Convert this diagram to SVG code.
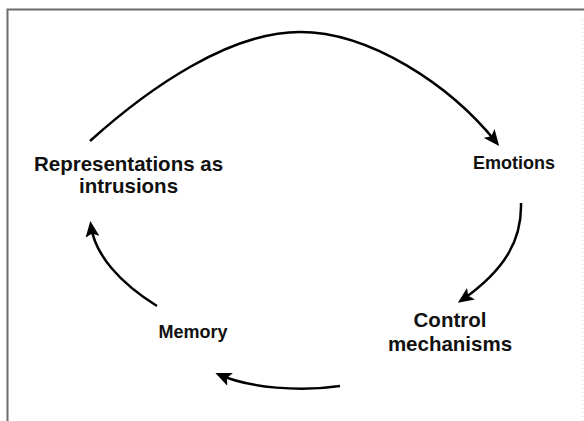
<svg xmlns="http://www.w3.org/2000/svg" width="584" height="421" viewBox="0 0 584 421">
  <style>
    .frame { fill: none; stroke: #6b6b6b; stroke-width: 2; }
    .edge-dots { fill: none; stroke: #d8d8d8; stroke-width: 1; stroke-dasharray: 1 3; }
    .link { fill: none; stroke: #000; stroke-width: 2.5; marker-end: url(#head); }
    .label { font-family: "Liberation Sans", Arial, sans-serif; font-weight: bold; fill: #111; text-anchor: middle; }
    .big { font-size: 20.5px; }
    .small { font-size: 18px; }
  </style>
  <defs>
    <marker id="head" markerUnits="userSpaceOnUse" markerWidth="18" markerHeight="14" refX="11" refY="7" orient="auto">
      <path d="M0,0 L16,7 L0,14 L3.5,7 z" fill="#000"/>
    </marker>
  </defs>

  <rect width="584" height="421" fill="#fff"/>

  <!-- page frame -->
  <path class="frame" d="M7.5,421 L7.5,9.5 L584,9.5"/>
  <path class="edge-dots" d="M582.5,20 L582.5,421"/>

  <!-- cycle connectors -->
  <g id="connectors">
    <path class="link" d="M90,141 C150,87 230,32 300,32 C370,32 450,85 496,142"/>
    <path class="link" d="M521,203 C522,240 505,270 462,300"/>
    <path class="link" d="M340,386 C300,392 250,388 220,375"/>
    <path class="link" d="M157,306 C120,283 95,255 91,226"/>
  </g>

  <g id="node-representations">
    <text class="label big" x="128.5" y="171">Representations as</text>
    <text class="label big" x="128.5" y="193">intrusions</text>
  </g>

  <g id="node-emotions">
    <text class="label small" x="514" y="168.5">Emotions</text>
  </g>

  <g id="node-control">
    <text class="label big" x="450" y="327">Control</text>
    <text class="label big" x="450" y="351">mechanisms</text>
  </g>

  <g id="node-memory">
    <text class="label small" x="193" y="338">Memory</text>
  </g>
</svg>
